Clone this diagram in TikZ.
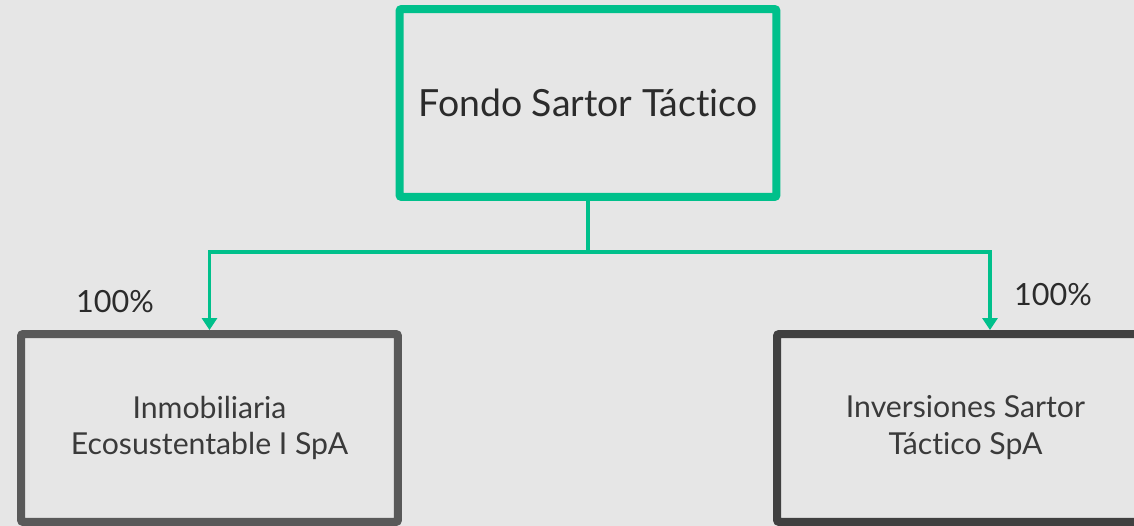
\documentclass[tikz,border=0pt]{standalone}
\usepackage{fontspec}
\setmainfont{Lato}[Ligatures=CommonOff]
\usepackage{xcolor}
\usetikzlibrary{arrows.meta,positioning,calc}
\definecolor{fondogris}{HTML}{E6E6E6}
\definecolor{verde}{HTML}{00C08B}
\definecolor{grisA}{HTML}{595959}
\definecolor{grisB}{HTML}{404040}
\definecolor{texto}{HTML}{2B2B2B}
\definecolor{textoB}{HTML}{3A3A3A}

\begin{document}
\begin{tikzpicture}[
  x=0.02cm, y=-0.02cm,
  box/.style={rectangle, line width=0.16cm, rounded corners=1.2pt,
    minimum width=7.54cm, minimum height=3.76cm, inner sep=0pt,
    align=center, text=texto},
  fondo/.style={box, draw=verde, font=\fontsize{21.3}{24}\selectfont},
  filial/.style={box, text=textoB, font=\fontsize{17.2}{21}\selectfont},
  link/.style={draw=verde, line width=2pt},
  pct/.style={font=\fontsize{17.4}{20}\selectfont, text=texto, inner sep=0pt}
]
\fill[fondogris] (0,0) rectangle (1134,526);
\useasboundingbox (0,0) rectangle (1134,526);

\node[fondo] (root) at (588,103) {Fondo Sartor Táctico};
\node[filial, draw=grisA] (inmob) at (209.5,428) {Inmobiliaria\\Ecosustentable I SpA};
\node[filial, draw=grisB] (inver) at (965.5,428) {Inversiones Sartor\\Táctico SpA};

\coordinate (bar) at (588,252);
\coordinate (inverIn) at ([xshift=0.49cm]inver.north);

\draw[link] (root.south) -- (bar);
\draw[link, -{Triangle[length=0.24cm, width=0.3cm]}] (bar) -| (inmob.north);
\draw[link, -{Triangle[length=0.24cm, width=0.3cm]}] (bar) -| (inverIn);

\node[pct] (pctA) at (115,302) {100\%};
\node[pct] (pctB) at (1053,295) {100\%};

\end{tikzpicture}
\end{document}
